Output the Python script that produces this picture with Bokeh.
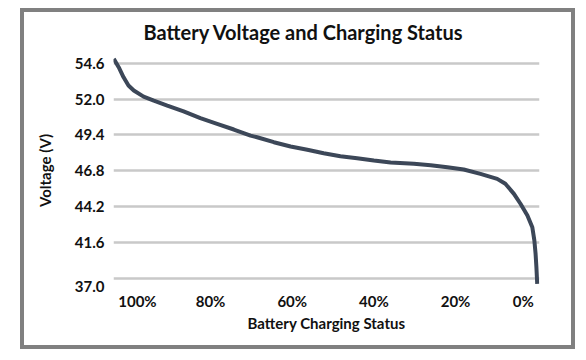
from bokeh.plotting import figure
from bokeh.models import Range1d, FixedTicker
from bokeh.embed import file_html
from bokeh.resources import INLINE

# Battery charging status (%) and voltage (V)
charge_pct = [103.7, 102.5, 101.3, 100.1, 98.8, 96.4, 93.9, 90.6, 86.6, 82.5,
              78.4, 74.3, 70.2, 68.6, 64.5, 60.4, 56.3, 52.3, 48.2, 44.1,
              40.0, 35.9, 30.2, 26.1, 22.0, 18.0, 13.9, 9.8, 7.8, 5.7,
              4.1, 2.4, 1.2, 0.7, 0.4, 0.2, 0.0]
voltage = [54.92, 54.31, 53.58, 52.98, 52.62, 52.18, 51.89, 51.53, 51.10, 50.61,
           50.20, 49.79, 49.35, 49.23, 48.87, 48.56, 48.32, 48.07, 47.85, 47.71,
           47.54, 47.39, 47.30, 47.20, 47.05, 46.89, 46.57, 46.21, 45.85, 45.12,
           44.40, 43.55, 42.70, 41.74, 40.77, 39.80, 38.59]

# gridline values and y tick labels (bottom label reads 37.0 in the original)
grid_values = [39.0, 41.6, 44.2, 46.8, 49.4, 52.0, 54.6]
y_tick_pos = [38.4, 41.6, 44.2, 46.8, 49.4, 52.0, 54.6]
y_tick_labels = ["37.0", "41.6", "44.2", "46.8", "49.4", "52.0", "54.6"]

x_tick_pos = [97.9, 80.0, 60.0, 40.0, 20.0, 3.4]
x_tick_labels = ["100%", "80%", "60%", "40%", "20%", "0%"]

FONT = "Lato"
TXT = "#111111"

p = figure(width=555, height=341, output_backend="svg", toolbar_location=None,
           x_range=Range1d(103.77, -0.56), y_range=Range1d(38.25, 55.38),
           title="Battery Voltage and Charging Status",
           min_border_left=93, min_border_right=36, min_border_top=44,
           min_border_bottom=61)
p.styles = {"box-shadow": "inset 0 0 0 4px #808080", "background": "white",
            "margin-left": "20px", "margin-top": "8px"}

p.line(charge_pct, voltage, line_color="#3c4758", line_width=4)

p.title.align = "left"
p.title.offset = 30
p.title.text_font = FONT
p.title.text_font_size = "20px"
p.title.text_font_style = "bold"
p.title.text_color = TXT
p.title.standoff = 18

p.outline_line_color = None
p.background_fill_color = "white"
p.border_fill_alpha = 0

p.xgrid.grid_line_color = None
p.ygrid.ticker = FixedTicker(ticks=grid_values)
p.ygrid.grid_line_color = "#c9c9c9"
p.ygrid.grid_line_width = 2.5

p.yaxis.ticker = FixedTicker(ticks=y_tick_pos)
p.yaxis.major_label_overrides = {v: l for v, l in zip(y_tick_pos, y_tick_labels)}
p.xaxis.ticker = FixedTicker(ticks=x_tick_pos)
p.xaxis.major_label_overrides = {v: l for v, l in zip(x_tick_pos, x_tick_labels)}

for ax in (p.xaxis[0], p.yaxis[0]):
    ax.axis_line_color = None
    ax.major_tick_line_color = None
    ax.minor_tick_line_color = None
    ax.major_tick_out = 0
    ax.major_tick_in = 0
    ax.minor_tick_out = 0
    ax.minor_tick_in = 0
    ax.major_label_text_font = FONT
    ax.major_label_text_font_style = "bold"
    ax.major_label_text_font_size = "15px"
    ax.major_label_text_color = TXT
    ax.axis_label_text_font = FONT
    ax.axis_label_text_font_style = "bold"
    ax.axis_label_text_font_size = "15px"
    ax.axis_label_text_color = TXT

p.xaxis.axis_label = "Battery Charging Status"
p.yaxis.axis_label = "Voltage (V)"
p.xaxis.major_label_standoff = 3
p.xaxis.axis_label_standoff = 1
p.yaxis.major_label_standoff = 9
p.yaxis.axis_label_standoff = 18

open("out.html", "w").write(file_html(p, INLINE))
